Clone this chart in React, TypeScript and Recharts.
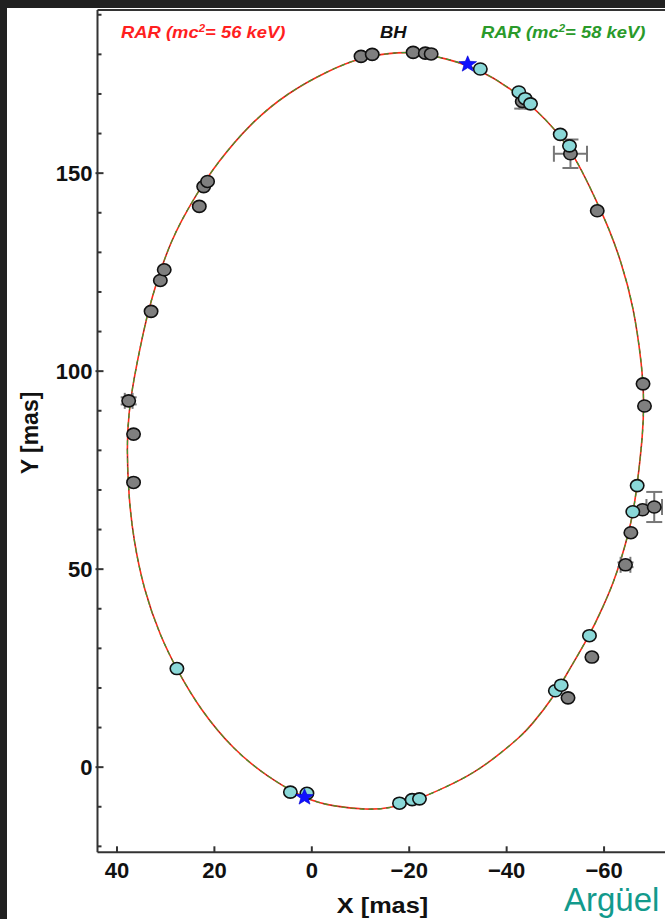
import React from 'react';
import { ComposedChart, Line, Scatter, XAxis, YAxis, ErrorBar, ReferenceLine } from 'recharts';

// orbit; the 56 keV, 58 keV and BH curves lie on top of each other
const orbit = [
  { x: -20.2, y: 180.7 }, { x: -16.1, y: 180.3 }, { x: -10.0, y: 179.2 }, { x: -3.2, y: 175.8 },
  { x: 5.1, y: 170.2 }, { x: 12.6, y: 162.6 }, { x: 19.5, y: 152.5 }, { x: 23.6, y: 144.9 },
  { x: 29.1, y: 133.2 }, { x: 33.2, y: 117.2 }, { x: 34.5, y: 110.4 }, { x: 36.6, y: 97.8 },
  { x: 37.6, y: 89.4 }, { x: 38.0, y: 81.0 }, { x: 37.6, y: 68.3 }, { x: 36.6, y: 57.4 },
  { x: 34.5, y: 44.8 }, { x: 31.1, y: 33.0 }, { x: 27.7, y: 24.6 }, { x: 22.9, y: 14.5 },
  { x: 16.1, y: 4.4 }, { x: 9.2, y: -2.4 }, { x: 1.0, y: -8.3 }, { x: -4.5, y: -9.9 },
  { x: -11.3, y: -10.8 }, { x: -16.1, y: -10.4 }, { x: -21.3, y: -8.4 }, { x: -27.8, y: -4.9 },
  { x: -33.2, y: -1.5 }, { x: -38.0, y: 2.7 }, { x: -42.8, y: 7.7 }, { x: -44.9, y: 10.3 },
  { x: -49.7, y: 17.8 }, { x: -52.4, y: 23.7 }, { x: -57.0, y: 33.2 }, { x: -59.8, y: 40.5 },
  { x: -61.9, y: 46.5 }, { x: -63.5, y: 52.5 }, { x: -64.9, y: 58.5 }, { x: -66.0, y: 64.5 },
  { x: -66.8, y: 71.1 }, { x: -68.0, y: 84.4 }, { x: -68.2, y: 92.8 }, { x: -67.8, y: 101.2 },
  { x: -66.1, y: 116.3 }, { x: -63.4, y: 128.1 }, { x: -61.0, y: 136.0 }, { x: -58.8, y: 142.0 },
  { x: -53.8, y: 155.1 }, { x: -48.3, y: 163.5 }, { x: -41.4, y: 171.0 }, { x: -34.6, y: 176.1 },
  { x: -27.8, y: 179.0 },
];

// older astrometry (gray)
const grayPoints = [
  { x: 33.0, y: 115.1 }, { x: 31.1, y: 122.9 }, { x: 30.3, y: 125.6 }, { x: 23.1, y: 141.6 },
  { x: 22.2, y: 146.6 }, { x: 21.4, y: 147.9 }, { x: -10.1, y: 179.5 }, { x: -12.4, y: 180.0 },
  { x: -20.8, y: 180.5 }, { x: -23.3, y: 180.3 }, { x: -24.5, y: 180.1 }, { x: -58.6, y: 140.5 },
  { x: -68.0, y: 96.8 }, { x: -68.3, y: 91.2 }, { x: -67.9, y: 65.0 }, { x: -65.5, y: 59.2 },
  { x: -57.5, y: 27.8 }, { x: -52.6, y: 17.5 }, { x: 36.6, y: 84.1 }, { x: 36.6, y: 71.9 },
];

// gray points that carry visible error bars
const grayErrPoints = [
  { x: 37.6, y: 92.5, ex: 0.8, ey: 0.9 },
  { x: -43.2, y: 168.1, ex: 0.6, ey: 1.8 },
  { x: -53.1, y: 154.9, ex: 3.4, ey: 3.6 },
  { x: -70.3, y: 65.7, ex: 1.6, ey: 3.8 },
  { x: -64.4, y: 51.1, ex: 1.0, ey: 0.6 },
];

// newer astrometry (cyan)
const cyanPoints = [
  { x: 27.7, y: 24.9 }, { x: 4.4, y: -6.3 }, { x: 1.0, y: -6.6 }, { x: -18.0, y: -9.1 },
  { x: -20.6, y: -8.2 }, { x: -22.1, y: -8.0 }, { x: -50.0, y: 19.3 }, { x: -51.2, y: 20.7 },
  { x: -57.0, y: 33.2 }, { x: -65.9, y: 64.5 }, { x: -66.8, y: 71.1 }, { x: -51.0, y: 159.8 },
  { x: -52.9, y: 156.9 }, { x: -42.5, y: 170.5 }, { x: -43.8, y: 168.8 }, { x: -44.9, y: 167.5 },
  { x: -34.6, y: 176.3 },
];

// pericenter / apocenter stars
const starPoints = [
  { x: -32.0, y: 177.5 },
  { x: 1.5, y: -7.6 },
];

const xTicks = [40, 20, 0, -20, -40, -60];
const yTicks = [-20, -10, 0, 10, 20, 30, 40, 50, 60, 70, 80, 90, 100, 110, 120, 130, 140, 150, 160, 170, 180, 190];
const yLabeled = [0, 50, 100, 150];

const X_DOMAIN: [number, number] = [-76, 44];
const Y_DOMAIN: [number, number] = [-21.5, 191.2];
const FONT = '"Liberation Sans", Arial, sans-serif';
const AXIS = '#333';

function XTick({ x, y, payload }: any) {
  const v = payload.value;
  const label = v < 0 ? `\u2212${-v}` : `${v}`;
  const axisY = y - 6;
  return (
    <g>
      <line x1={x} x2={x} y1={axisY} y2={axisY - 6} stroke={AXIS} strokeWidth={2} />
      <text x={x} y={axisY + 26} textAnchor="middle" fontFamily={FONT} fontWeight="bold" fontSize={22} fill="#111">
        {label}
      </text>
    </g>
  );
}

function YTick({ x, y, payload }: any) {
  const v = payload.value;
  const axisX = x + 5;
  const major = yLabeled.includes(v);
  return (
    <g>
      <line x1={major ? axisX - 2 : axisX} x2={axisX + (major ? 6 : 4)} y1={y} y2={y} stroke={AXIS} strokeWidth={2} />
      {major && (
        <text x={x} y={y + 8} textAnchor="end" fontFamily={FONT} fontWeight="bold" fontSize={22} fill="#111">
          {v}
        </text>
      )}
    </g>
  );
}

function Dot({ cx, cy, fill }: any) {
  return <ellipse cx={cx} cy={cy} rx={6.7} ry={6} fill={fill} stroke="#111" strokeWidth={1.6} />;
}

function Star({ cx, cy }: any) {
  const pts: string[] = [];
  for (let i = 0; i < 10; i++) {
    const r = i % 2 === 0 ? 8.5 : 3.6;
    const a = -Math.PI / 2 + (i * Math.PI) / 5;
    pts.push(`${cx + r * Math.cos(a) * 1.1},${cy + r * Math.sin(a)}`);
  }
  return <polygon points={pts.join(' ')} fill="#1010ff" stroke="#0000cc" strokeWidth={0.6} />;
}

export default function App() {
  return (
    <div style={{ position: 'absolute', left: 0, top: 0, width: 665, height: 919, overflow: 'hidden', background: '#212121' }}>
      <div style={{ position: 'absolute', left: 7, top: 8, right: 0, bottom: 0, background: '#fff' }} />
      <div style={{ position: 'absolute', left: 0, top: 0 }}>
        <ComposedChart width={700} height={919} margin={{ top: 10, right: 18, left: 7.5, bottom: 6.7 }}>
          <XAxis
            type="number"
            dataKey="x"
            domain={X_DOMAIN}
            reversed
            allowDataOverflow
            ticks={xTicks}
            interval={0}
            height={60}
            tickSize={0}
            tickMargin={6}
            tick={<XTick />}
            axisLine={{ stroke: AXIS, strokeWidth: 2 }}
          />
          <YAxis
            type="number"
            dataKey="y"
            domain={Y_DOMAIN}
            allowDataOverflow
            ticks={yTicks}
            interval={0}
            width={90}
            tickSize={0}
            tickMargin={5}
            tick={<YTick />}
            axisLine={{ stroke: AXIS, strokeWidth: 2 }}
          />
          <ReferenceLine y={Y_DOMAIN[1]} stroke={AXIS} strokeWidth={2} />
          <Line data={orbit} dataKey="y" type="basisClosed" stroke="#ff2a1a" strokeWidth={1.6} dot={false} isAnimationActive={false} />
          <Line data={orbit} dataKey="y" type="basisClosed" stroke="#333" strokeWidth={1} strokeDasharray="2 6" strokeOpacity={0.7} dot={false} isAnimationActive={false} />
          <Line data={orbit} dataKey="y" type="basisClosed" stroke="#3d9a2e" strokeWidth={1.2} strokeDasharray="5 4" dot={false} isAnimationActive={false} />
          <Scatter data={grayPoints} fill="#7f7f7f" shape={<Dot />} isAnimationActive={false} />
          <Scatter data={grayErrPoints} fill="#7f7f7f" shape={<Dot />} isAnimationActive={false}>
            <ErrorBar dataKey="ex" direction="x" width={8} stroke="#777" strokeWidth={2} />
            <ErrorBar dataKey="ey" direction="y" width={8} stroke="#777" strokeWidth={2} />
          </Scatter>
          <Scatter data={cyanPoints} fill="#8ad8d8" shape={<Dot />} isAnimationActive={false} />
          <Scatter data={starPoints} fill="#1010ff" shape={<Star />} isAnimationActive={false} />
        </ComposedChart>
      </div>
      <svg width={665} height={919} style={{ position: 'absolute', left: 0, top: 0, pointerEvents: 'none' }}>
        <g transform="translate(121,38) scale(1.15,1)" fontFamily={FONT} fontWeight="bold" fontStyle="italic" fontSize={16} fill="#ff1f1f">
          <text x={0} y={0}>
            RAR (mc<tspan fontSize={10} dy={-6}>2</tspan><tspan dy={6}>= 56 keV)</tspan>
          </text>
        </g>
        <g transform="translate(380,38) scale(1.15,1)" fontFamily={FONT} fontWeight="bold" fontStyle="italic" fontSize={16} fill="#111">
          <text x={0} y={0}>BH</text>
        </g>
        <g transform="translate(481,38) scale(1.15,1)" fontFamily={FONT} fontWeight="bold" fontStyle="italic" fontSize={16} fill="#2a9a2a">
          <text x={0} y={0}>
            RAR (mc<tspan fontSize={10} dy={-6}>2</tspan><tspan dy={6}>= 58 keV)</tspan>
          </text>
        </g>
        <g transform="translate(382.5,913) scale(1.15,1)">
          <text x={0} y={0} textAnchor="middle" fontFamily={FONT} fontWeight="bold" fontSize={22} fill="#111">X [mas]</text>
        </g>
        <g transform="translate(38,433) rotate(-90)">
          <text x={0} y={0} textAnchor="middle" fontFamily={FONT} fontWeight="bold" fontSize={23} fill="#111">Y [mas]</text>
        </g>
        <text x={564} y={911} fontFamily={FONT} fontSize={33} fill="#129a8c">Argüel</text>
      </svg>
    </div>
  );
}
